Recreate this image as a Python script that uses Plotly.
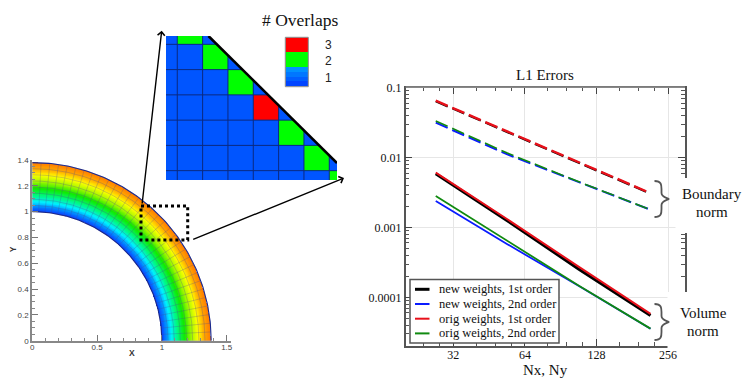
import numpy as np
import plotly.graph_objects as go

W, H = 747, 382

# ---------- L1 error data ----------
nx = [27, 54, 108, 216]
new_1st_vol = [0.00585, 0.00125, 0.000253, 0.000055]
new_2nd_vol = [0.00240, 0.000577, 0.000145, 0.0000355]
orig_1st_vol = [0.00610, 0.00131, 0.000273, 0.000058]
orig_2nd_vol = [0.00281, 0.00064, 0.000147, 0.0000357]
new_1st_bnd = [0.0640, 0.0233, 0.00835, 0.00305]
new_2nd_bnd = [0.0316, 0.0111, 0.00446, 0.00179]
orig_1st_bnd = [0.0652, 0.0237, 0.00853, 0.00310]
orig_2nd_bnd = [0.0334, 0.0116, 0.00450, 0.00180]
legend_labels = ["new weights, 1st order", "new weights, 2nd order",
                 "orig weights, 1st order", "orig weights, 2nd order"]
x_ticks = [32, 64, 128, 256]
x_minor = [20, 24, 28, 40, 48, 56, 80, 96, 112, 160, 192, 224]
y_ticks = [0.1, 0.01, 0.001, 0.0001]
y_labels = ["0.1", "0.01", "0.001", "0.0001"]

# ---------- annulus field ----------
r_inner, r_outer = 1.0, 1.38
radial_cells, angular_cells = 8, 32
field_r = [1.00, 1.035, 1.075, 1.12, 1.17, 1.225, 1.275, 1.33, 1.38]
field_v = [0.00, 0.12, 0.27, 0.38, 0.50, 0.62, 0.72, 0.87, 1.00]
jet = [[0.00, "#0a3cff"], [0.14, "#0090ff"], [0.27, "#00f0ff"], [0.40, "#00f878"],
       [0.52, "#10ea00"], [0.64, "#a8f800"], [0.74, "#ffff00"], [0.87, "#ffaa00"],
       [1.00, "#ff7a00"]]

# ---------- overlap inset ----------
col_edges = [0, 0.445, 1.445, 2.445, 3.445, 4.445, 5.445, 6.445, 6.75]
row_edges = [-0.33, 0, 1, 2, 3, 4, 5, 5.37]
overlaps = [
    [1, 2, 1, 1, 1, 1, 1, 1],
    [1, 1, 2, 1, 1, 1, 1, 1],
    [1, 1, 1, 2, 1, 1, 1, 1],
    [1, 1, 1, 1, 3, 1, 1, 1],
    [1, 1, 1, 1, 1, 2, 1, 1],
    [1, 1, 1, 1, 1, 1, 2, 1],
    [1, 1, 1, 1, 1, 1, 1, 2],
]
overlap_cs = [[0, "#0055ff"], [0.5, "#0055ff"], [0.5, "#00ff00"], [0.75, "#00ff00"], [0.75, "#ff0000"], [1, "#ff0000"]]
key_levels = [[1.0, 1.0], [1.0, 1.0], [1.0, 1.0], [0.7, 0.7], [0.7, 0.7], [0.7, 0.7], [0.45, 0.45], [0.3, 0.3], [0.15, 0.15], [0.0, 0.0]]
key_labels = ["3", "2", "1"]


def px(x):
    return x / W


def py(y):
    return 1 - y / H


def dom_x(a, b):
    return [px(a), px(b)]


def dom_y(top, bottom):
    return [py(bottom), py(top)]


fig = go.Figure()

# ---- annulus heatmap ----
gx = np.linspace(0, 1.42, 420)
gy = np.linspace(0, 1.42, 420)
XX, YY = np.meshgrid(gx, gy)
RR = np.hypot(XX, YY)
ZZ = np.interp(RR, field_r, field_v)
ZZ[(RR < r_inner) | (RR > r_outer)] = np.nan
fig.add_trace(go.Heatmap(x=gx, y=gy, z=ZZ, colorscale=jet, zmin=0, zmax=1, showscale=False,
                         hoverinfo="skip", xaxis="x", yaxis="y"))
theta = np.linspace(0, np.pi / 2, 120)
mx, my = [], []
for r in np.linspace(r_inner, r_outer, radial_cells + 1):
    mx += list(r * np.cos(theta)) + [None]
    my += list(r * np.sin(theta)) + [None]
for t in np.linspace(0, np.pi / 2, angular_cells + 1):
    mx += [r_inner * np.cos(t), r_outer * np.cos(t), None]
    my += [r_inner * np.sin(t), r_outer * np.sin(t), None]
fig.add_trace(go.Scatter(x=mx, y=my, mode="lines", line=dict(color="rgba(70,70,150,0.45)", width=0.6),
                         hoverinfo="skip", showlegend=False, xaxis="x", yaxis="y"))
ox, oy = [], []
for r in (r_inner, r_outer):
    ox += list(r * np.cos(theta)) + [None]
    oy += list(r * np.sin(theta)) + [None]
fig.add_trace(go.Scatter(x=ox, y=oy, mode="lines", line=dict(color="#1c2a8c", width=1.1),
                         hoverinfo="skip", showlegend=False, xaxis="x", yaxis="y"))

# ---- inset ----
fig.add_trace(go.Heatmap(x=col_edges, y=row_edges, z=overlaps, colorscale=overlap_cs, zmin=0, zmax=4,
                         showscale=False, hoverinfo="skip", xgap=0, ygap=0, xaxis="x2", yaxis="y2"))
gridx, gridy = [], []
for c in col_edges[1:-1]:
    gridx += [c, c, None]
    gridy += [row_edges[0], row_edges[-1], None]
for r in row_edges[1:-1]:
    gridx += [col_edges[0], col_edges[-1], None]
    gridy += [r, r, None]
fig.add_trace(go.Scatter(x=gridx, y=gridy, mode="lines", line=dict(color="#0a2a80", width=1),
                         hoverinfo="skip", showlegend=False, xaxis="x2", yaxis="y2"))
# the boundary cuts the cells along a diagonal: white outside, thick black edge
cut_x = [1.675, 6.75, 6.75, 1.675]
cut_y = [-0.33, 4.70, -0.33, -0.33]
fig.add_trace(go.Scatter(x=cut_x, y=cut_y, mode="lines", fill="toself", fillcolor="white", line=dict(width=0),
                         hoverinfo="skip", showlegend=False, xaxis="x2", yaxis="y2"))
fig.add_trace(go.Scatter(x=cut_x[:2], y=cut_y[:2], mode="lines", line=dict(color="black", width=2.6),
                         hoverinfo="skip", showlegend=False, cliponaxis=False, xaxis="x2", yaxis="y2"))

# ---- key ----
fig.add_trace(go.Heatmap(z=key_levels, colorscale=[[0, "#0044ff"], [0.5, "#0099ff"], [0.5, "#00ff00"], [0.85, "#00ff00"], [0.85, "#ff0000"], [1, "#ff0000"]],
                         zmin=0, zmax=1, showscale=False, hoverinfo="skip", xaxis="x3", yaxis="y3"))

# ---- error curves ----
series = [
    (new_1st_bnd, "#000000", 2.2, "dash"),
    (new_2nd_bnd, "#0a1cff", 2, "dash"),
    (orig_1st_bnd, "#e8101a", 2.4, "dash"),
    (orig_2nd_bnd, "#108a10", 1.6, "dash"),
    (new_1st_vol, "#000000", 3, "solid"),
    (new_2nd_vol, "#0a1cff", 1.8, "solid"),
    (orig_1st_vol, "#e8101a", 2.0, "solid"),
    (orig_2nd_vol, "#108a10", 1.8, "solid"),
]
for vals, color, width, dash in series:
    d = "13px,5px" if dash == "dash" else "solid"
    fig.add_trace(go.Scatter(x=nx, y=vals, mode="lines", line=dict(color=color, width=width, dash=d),
                             showlegend=False, xaxis="x4", yaxis="y4"))

tickfont_sans = dict(family="Liberation Sans", size=8, color="#444444")
serif = "Liberation Serif"
axis_hidden = dict(visible=False)

xr4 = [np.log10(2) * 4.335, np.log10(2) * 8.237]
layout = dict(
    width=W, height=H, margin=dict(l=0, r=0, t=0, b=0, autoexpand=False), paper_bgcolor="white", plot_bgcolor="rgba(0,0,0,0)",
    showlegend=False,
    xaxis=dict(domain=dom_x(32.3, 231), range=[0, 1.533], anchor="y", tickvals=[0, 0.5, 1, 1.5], ticktext=["0", "0.5", "1", "1.5"],
               ticks="inside", ticklen=6, tickcolor="#777777", showgrid=False, zeroline=False,
               showline=True, linecolor="#888888", linewidth=2, tickfont=tickfont_sans, ticklabelstandoff=-2,
               minor=dict(dtick=0.1, ticks="inside", ticklen=3, tickcolor="#888888")),
    yaxis=dict(domain=dom_y(160, 340.7), range=[0, 1.4], anchor="x", tickvals=[0, 0.2, 0.4, 0.6, 0.8, 1, 1.2, 1.4],
               ticktext=["0", "0.2", "0.4", "0.6", "0.8", "1", "1.2", "1.4"], ticks="inside", ticklen=6,
               tickcolor="#777777", showgrid=False, zeroline=False, showline=True, linecolor="#888888", linewidth=2,
               tickfont=tickfont_sans, minor=dict(dtick=0.05, ticks="inside", ticklen=3, tickcolor="#888888")),
    xaxis2=dict(axis_hidden, domain=dom_x(166, 337), range=[0, 6.75], anchor="y2"),
    yaxis2=dict(axis_hidden, domain=dom_y(36, 180), range=[5.37, -0.33], anchor="x2"),
    xaxis3=dict(axis_hidden, domain=dom_x(285.3, 308.3), range=[-0.5, 1.5], anchor="y3"),
    yaxis3=dict(axis_hidden, domain=dom_y(37.3, 86.7), range=[9.5, -0.5], anchor="x3"),
    xaxis4=dict(type="log", domain=dom_x(405.7, 685), range=xr4, anchor="y4", tickvals=x_ticks, ticktext=[str(v) for v in x_ticks],
                ticks="inside", ticklen=7, tickcolor="#444444", showgrid=True, gridcolor="#e6e6e6", gridwidth=1, zeroline=False,
                showline=True, linecolor="#555555", linewidth=1.5, mirror="allticks", ticklabelstandoff=-3,
                tickfont=dict(family=serif, size=12, color="#111111"),
                minor=dict(tickvals=x_minor, ticks="inside", ticklen=4, tickcolor="#555555", showgrid=False)),
    yaxis4=dict(type="log", domain=dom_y(87.7, 346), range=[-1, -4.696][::-1], anchor="x4", tickvals=y_ticks, ticktext=y_labels,
                ticks="inside", ticklen=7, tickcolor="#444444", showgrid=True, gridcolor="#e6e6e6", gridwidth=1, zeroline=False,
                showline=True, linecolor="#555555", linewidth=1.5, mirror="allticks",
                tickfont=dict(family=serif, size=12, color="#111111"),
                minor=dict(dtick="D1", ticks="inside", ticklen=4, tickcolor="#555555", showgrid=False)),
)

shapes = []
ann = []


def rect(x0, y0, x1, y1, **kw):
    shapes.append(dict(type="rect", xref="paper", yref="paper", x0=px(x0), x1=px(x1), y0=py(y0), y1=py(y1), **kw))


def text(x, y, s, size, family=serif, color="#111111", xanchor="center", angle=0):
    ann.append(dict(xref="paper", yref="paper", x=px(x), y=py(y), text=s, showarrow=False, xanchor=xanchor, yanchor="middle",
                    textangle=angle, font=dict(family=family, size=size, color=color)))


def brace(x, y0, y1, w):
    ym = (y0 + y1) / 2
    xm = x + w / 2
    path = (f"M{px(x)},{py(y0)} C{px(xm)},{py(y0)} {px(xm)},{py(y0 + 4)} {px(xm)},{py(y0 + 8)} "
            f"L{px(xm)},{py(ym - 6)} C{px(xm)},{py(ym - 2)} {px(x + w - 1)},{py(ym - 1)} {px(x + w)},{py(ym)} "
            f"C{px(x + w - 1)},{py(ym + 1)} {px(xm)},{py(ym + 2)} {px(xm)},{py(ym + 6)} "
            f"L{px(xm)},{py(y1 - 8)} C{px(xm)},{py(y1 - 4)} {px(xm)},{py(y1)} {px(x)},{py(y1)}")
    shapes.append(dict(type="path", xref="paper", yref="paper", path=path, line=dict(color="#555555", width=1.8)))


# key outline
rect(285.3, 37.3, 308.3, 86.7, line=dict(color="#888888", width=1))
# dotted zoom box
rect(141, 206, 187.7, 240, line=dict(color="black", width=3, dash="dot"))
# white masks over right spine
rect(675.5, 178, 700, 233, fillcolor="white", line=dict(width=0))
rect(667.5, 292, 700, 350, fillcolor="white", line=dict(width=0))
brace(654.5, 181, 217, 14)
brace(654.5, 304, 340, 14)
# top spine in lighter grey
shapes.append(dict(type="line", xref="paper", yref="paper", x0=px(405.7), x1=px(685), y0=py(87.2), y1=py(87.2),
                   line=dict(color="#888888", width=1.8)))

# hand-sized legend box
rect(410, 279.5, 559, 343, fillcolor="white", line=dict(color="#555555", width=1.5))
legend_style = [("#000000", 3), ("#0a1cff", 2), ("#e8101a", 2), ("#108a10", 2)]
for i, (lab, (c, w)) in enumerate(zip(legend_labels, legend_style)):
    yy = 289.3 + i * 14.7
    shapes.append(dict(type="line", xref="paper", yref="paper", x0=px(415), x1=px(429.5), y0=py(yy), y1=py(yy),
                       line=dict(color=c, width=w)))
    text(436.5, yy, lab, 12.5, xanchor="left")

text(299.5, 20, "# Overlaps", 17.5)
for lab, yy in zip(key_labels, [44.5, 61, 78]):
    text(328, yy, lab, 12, family="Liberation Sans", color="#222222")
text(132, 353, "<b>X</b>", 8.5, family="Liberation Sans", color="#333333")
text(13.3, 249, "<b>Y</b>", 8.5, family="Liberation Sans", color="#333333", angle=-90)
text(545, 75, "L1 Errors", 15)
text(545, 369.5, "Nx, Ny", 15)
text(711.7, 194, "Boundary", 15)
text(711.7, 212, "norm", 15)
text(703, 313, "Volume", 15)
text(703, 331, "norm", 15)


def arrow(x0, y0, x1, y1):
    ann.append(dict(xref="paper", yref="paper", x=px(x1), y=py(y1), ax=x0 - x1, ay=y0 - y1, axref="pixel", ayref="pixel",
                    text="", showarrow=True, arrowhead=4, arrowsize=1, arrowwidth=1.4, arrowcolor="black"))


arrow(142, 205, 161.7, 30.7)
arrow(191.7, 240, 344, 178)

layout["shapes"] = shapes
layout["annotations"] = ann
fig.update_layout(**layout)

fig.write_html("out.html", config=dict(displayModeBar=False),
               post_script="document.body.style.margin='0';document.body.style.overflow='hidden';")
